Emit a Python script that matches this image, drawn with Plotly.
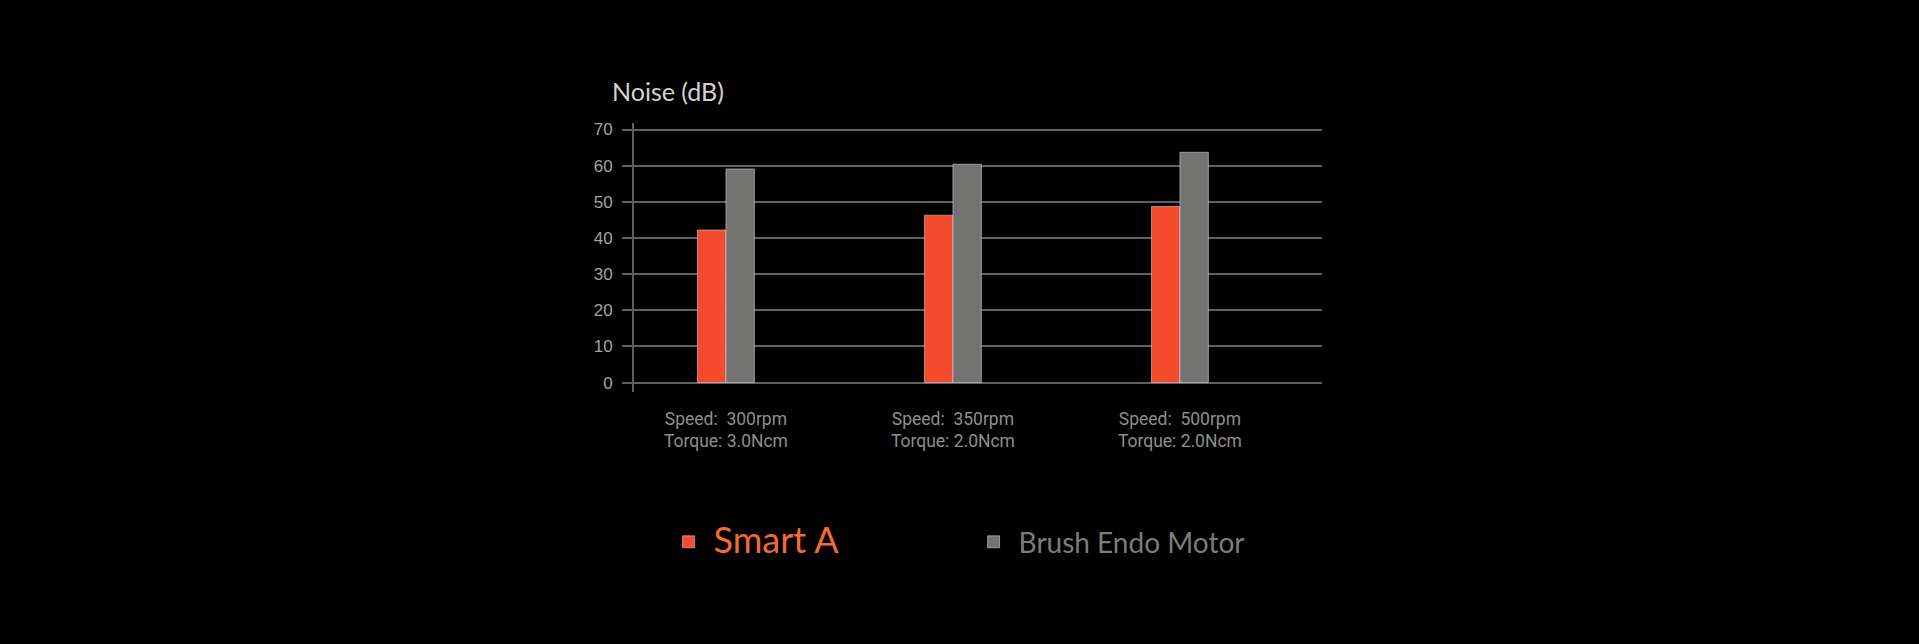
import plotly.graph_objects as go

# data
categories = ['300rpm', '350rpm', '500rpm']
tick_labels = ['Speed:  300rpm<br>Torque: 3.0Ncm',
               'Speed:  350rpm<br>Torque: 2.0Ncm',
               'Speed:  500rpm<br>Torque: 2.0Ncm']
smart_a = [42.2, 46.3, 48.7]
brush_motor = [59.1, 60.4, 63.7]
y_ticks = [0, 10, 20, 30, 40, 50, 60, 70]

red = '#f44b2f'
grey = '#737371'
line_grey = '#5f5f5f'

fig = go.Figure()

fig.add_trace(go.Bar(
    x=categories,
    y=smart_a,
    name='<span style="font-size:36px;color:#f26a3a">Smart A</span>',
    marker_color=red,
))
fig.add_trace(go.Bar(
    x=categories,
    y=brush_motor,
    name='<span style="font-size:28px;color:#7c7c7c">Brush Endo Motor</span>',
    marker_color=grey,
))

fig.update_xaxes(
    type='category',
    range=[-0.405, 2.626],
    tickvals=categories,
    ticktext=tick_labels,
    showgrid=False,
    showline=False,
    zeroline=False,
    ticks='',
    ticklabelstandoff=14,
    tickfont=dict(family='Roboto', size=17.5, color='#8e8e8e'),
)
fig.update_yaxes(
    range=[-2.6, 71.8],
    tickvals=y_ticks,
    showgrid=True,
    gridcolor=line_grey,
    gridwidth=2,
    zeroline=True,
    zerolinecolor=line_grey,
    zerolinewidth=2,
    showline=True,
    linecolor=line_grey,
    linewidth=2,
    ticks='outside',
    ticklen=10,
    tickwidth=2,
    tickcolor=line_grey,
    ticklabelstandoff=6,
    tickfont=dict(family='Liberation Sans', size=17, color='#a2a2a2'),
)

# axis title sits horizontally above the y axis
fig.add_annotation(
    text='Noise (dB)', xref='paper', yref='paper',
    x=-0.035, y=1.12, xanchor='left', yanchor='middle',
    showarrow=False,
    font=dict(family='Lato', size=25, color='#d2d2d2'),
)

fig.update_layout(
    width=1919, height=644,
    margin=dict(l=634, r=597, t=123, b=252),
    paper_bgcolor='black',
    plot_bgcolor='black',
    barmode='group',
    bargap=0.749,
    bargroupgap=0,
    showlegend=True,
    legend=dict(
        orientation='h',
        x=0.043, y=-0.558,
        xanchor='left', yanchor='middle',
        entrywidthmode='pixels',
        entrywidth=250,
        itemwidth=40,
        font=dict(family='Lato', size=28, color='#7c7c7c'),
        bgcolor='rgba(0,0,0,0)',
        traceorder='normal',
    ),
)

# drop the browser's default page margin so the figure fills the window
fig.write_html('out.html', config={'displayModeBar': False},
               post_script="document.body.style.margin='0';document.body.style.background='black';")
